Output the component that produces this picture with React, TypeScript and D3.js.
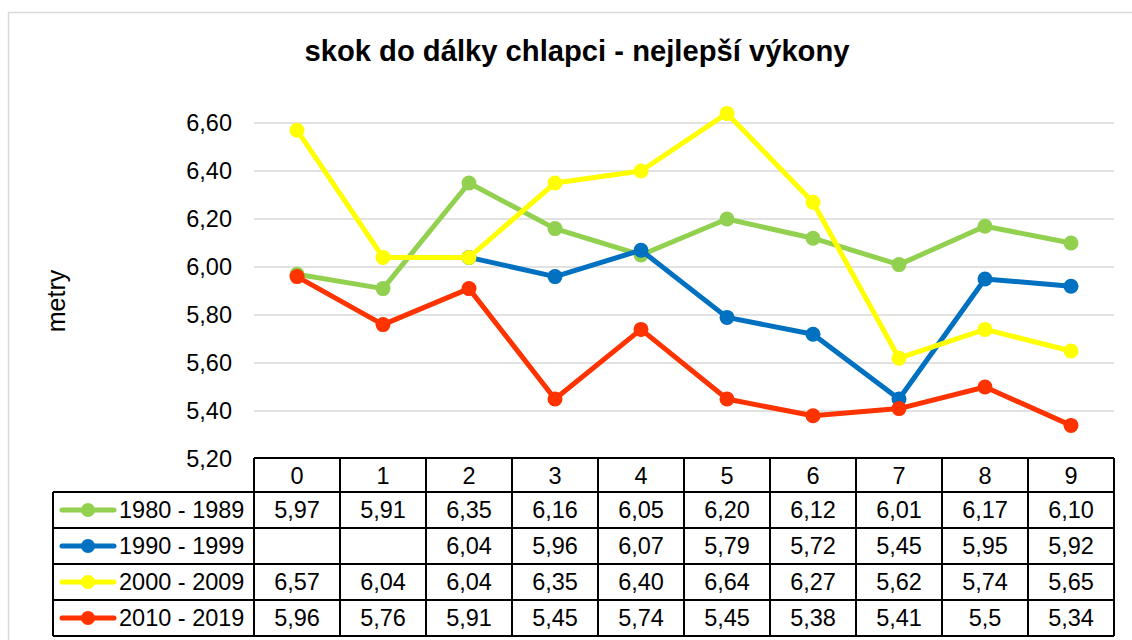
import React from "react";
import * as d3 from "d3";

const categories = ["0", "1", "2", "3", "4", "5", "6", "7", "8", "9"];
const seriesNames = ["1980 - 1989", "1990 - 1999", "2000 - 2009", "2010 - 2019"];
const s1980: (number | null)[] = [5.97, 5.91, 6.35, 6.16, 6.05, 6.2, 6.12, 6.01, 6.17, 6.1];
const s1990: (number | null)[] = [null, null, 6.04, 5.96, 6.07, 5.79, 5.72, 5.45, 5.95, 5.92];
const s2000: (number | null)[] = [6.57, 6.04, 6.04, 6.35, 6.4, 6.64, 6.27, 5.62, 5.74, 5.65];
const s2010: (number | null)[] = [5.96, 5.76, 5.91, 5.45, 5.74, 5.45, 5.38, 5.41, 5.5, 5.34];
const tableText: string[][] = [
  ["5,97", "5,91", "6,35", "6,16", "6,05", "6,20", "6,12", "6,01", "6,17", "6,10"],
  ["", "", "6,04", "5,96", "6,07", "5,79", "5,72", "5,45", "5,95", "5,92"],
  ["6,57", "6,04", "6,04", "6,35", "6,40", "6,64", "6,27", "5,62", "5,74", "5,65"],
  ["5,96", "5,76", "5,91", "5,45", "5,74", "5,45", "5,38", "5,41", "5,5", "5,34"],
];
const yTicks = [5.2, 5.4, 5.6, 5.8, 6.0, 6.2, 6.4, 6.6];
const colors = ["#92D050", "#0070C0", "#FFFF00", "#FF3300"];
const allSeries = [s1980, s1990, s2000, s2010];

const W = 1132;
const H = 640;
const plotL = 254;
const plotR = 1114;
const plotT = 123;
const plotB = 459;
const legendL = 53;
const headerB = 492;
const rowH = 36;
const font = "Liberation Sans, Arial, sans-serif";

export default function App() {
  const x = d3.scaleBand<string>().domain(categories).range([plotL, plotR]);
  const y = d3.scaleLinear().domain([5.2, 6.6]).range([plotB, plotT]);
  const fmt = (v: number) => v.toFixed(2).replace(".", ",");
  const line = d3
    .line<number | null>()
    .defined((d) => d !== null)
    .x((_, i) => (x(categories[i]) as number) + x.bandwidth() / 2)
    .y((d) => y(d as number));

  const rowsTop = headerB;
  const tableBottom = rowsTop + rowH * seriesNames.length;

  return (
    <svg
      width={W}
      height={H}
      style={{ position: "absolute", left: 0, top: 0, background: "#fff" }}
      fontFamily={font}
    >
      <rect x={8.5} y={12.5} width={W + 10} height={H + 10} fill="#fff" stroke="#d9d9d9" strokeWidth={1.5} />
      <text x={577} y={61} textAnchor="middle" fontSize={29.2} fontWeight="bold" fill="#000">
        skok do dálky chlapci - nejlepší výkony
      </text>
      <text
        transform={`translate(65,301) rotate(-90)`}
        textAnchor="middle"
        fontSize={25}
        fill="#000"
      >
        metry
      </text>
      {yTicks.map((t) => (
        <g key={t}>
          {t > 5.2 && (
            <line x1={plotL} x2={plotR} y1={y(t)} y2={y(t)} stroke="#d9d9d9" strokeWidth={1.5} />
          )}
          <text x={232} y={y(t)} dy="0.35em" textAnchor="end" fontSize={23.5} fill="#000">
            {fmt(t)}
          </text>
        </g>
      ))}
      {allSeries.map((s, k) => (
        <g key={k}>
          <path d={line(s) || ""} fill="none" stroke={colors[k]} strokeWidth={5} strokeLinejoin="round" />
          {s.map((v, i) =>
            v === null ? null : (
              <circle
                key={i}
                cx={(x(categories[i]) as number) + x.bandwidth() / 2}
                cy={y(v)}
                r={7.5}
                fill={colors[k]}
              />
            )
          )}
        </g>
      ))}
      {/* data table */}
      <g stroke="#000" strokeWidth={2} fill="none">
        <line x1={plotL} x2={plotR} y1={plotB - 1} y2={plotB - 1} />
        {seriesNames.map((_, r) => (
          <line key={r} x1={legendL} x2={plotR} y1={rowsTop + r * rowH} y2={rowsTop + r * rowH} />
        ))}
        <line x1={legendL} x2={plotR} y1={tableBottom} y2={tableBottom} />
        <line x1={legendL} x2={legendL} y1={rowsTop} y2={tableBottom} />
        {categories.map((c) => (
          <line key={c} x1={x(c) as number} x2={x(c) as number} y1={plotB - 1} y2={tableBottom} />
        ))}
        <line x1={plotR} x2={plotR} y1={plotB - 1} y2={tableBottom} />
      </g>
      {categories.map((c) => (
        <text
          key={c}
          x={(x(c) as number) + x.bandwidth() / 2}
          y={(plotB + headerB) / 2}
          dy="0.36em"
          textAnchor="middle"
          fontSize={23.5}
          fill="#000"
        >
          {c}
        </text>
      ))}
      {seriesNames.map((name, r) => {
        const cy = rowsTop + r * rowH + rowH / 2;
        return (
          <g key={name}>
            <line x1={62} x2={114} y1={cy} y2={cy} stroke={colors[r]} strokeWidth={5} strokeLinecap="round" />
            <circle cx={88} cy={cy} r={7} fill={colors[r]} />
            <text x={119} y={cy} dy="0.36em" fontSize={23.5} fill="#000">
              {name}
            </text>
            {tableText[r].map((t, i) => (
              <text
                key={i}
                x={(x(categories[i]) as number) + x.bandwidth() / 2}
                y={cy}
                dy="0.36em"
                textAnchor="middle"
                fontSize={23.5}
                fill="#000"
              >
                {t}
              </text>
            ))}
          </g>
        );
      })}
    </svg>
  );
}
